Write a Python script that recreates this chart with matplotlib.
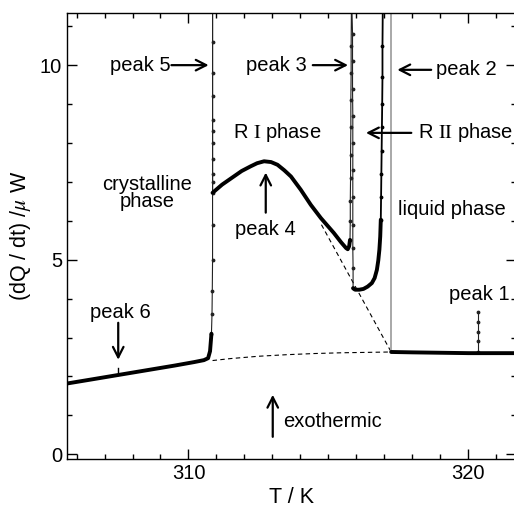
import matplotlib
matplotlib.use("Agg")
import matplotlib.pyplot as plt
from matplotlib.ticker import MultipleLocator

plt.rcParams['font.family'] = ['Liberation Sans', 'DejaVu Sans']
plt.rcParams['mathtext.fontset'] = 'stix'

# ---- data ----
T_cryst = [305.66, 306.5, 307.5, 308.5, 309.5, 310.2, 310.55, 310.7, 310.77, 310.82]
Q_cryst = [1.82, 1.92, 2.04, 2.16, 2.28, 2.37, 2.42, 2.47, 2.65, 3.10]

T_p5 = [310.82, 310.84, 310.85, 310.86, 310.86, 310.86, 310.86, 310.86, 310.86, 310.86,
        310.86, 310.86, 310.86, 310.86, 310.86, 310.86]
Q_p5 = [3.10, 3.60, 4.20, 5.00, 5.90, 7.00, 8.30, 9.80, 11.40, 10.60, 9.20, 8.60,
        8.00, 7.60, 7.20, 6.72]

T_RI = [310.86, 311.2, 311.62, 311.9, 312.22, 312.45, 312.70, 312.95, 313.18, 313.42,
        313.66, 314.01, 314.37, 314.73, 315.19, 315.45, 315.63, 315.69, 315.74, 315.77]
Q_RI = [6.72, 6.93, 7.14, 7.28, 7.40, 7.48, 7.53, 7.51, 7.44, 7.30,
        7.14, 6.80, 6.41, 6.07, 5.69, 5.45, 5.30, 5.27, 5.35, 5.51]

T_p3 = [315.77, 315.78, 315.78, 315.79, 315.79, 315.80, 315.80, 315.81, 315.81, 315.82,
        315.84, 315.86, 315.86, 315.86, 315.87, 315.87, 315.87, 315.87, 315.87, 315.87,
        315.88, 315.88]
Q_p3 = [5.51, 6.00, 6.50, 7.10, 7.70, 8.40, 9.10, 9.80, 10.50, 11.40,
        11.40, 10.80, 10.10, 9.40, 8.70, 8.00, 7.30, 6.60, 5.90, 5.30, 4.80, 4.27]

T_RII = [315.88, 315.95, 316.10, 316.25, 316.40, 316.55, 316.65, 316.73, 316.78,
         316.82, 316.85, 316.87]
Q_RII = [4.27, 4.23, 4.23, 4.25, 4.31, 4.40, 4.53, 4.74, 4.98, 5.26, 5.60, 6.03]

T_p2 = [316.87, 316.88, 316.89, 316.90, 316.91, 316.92, 316.93, 316.93, 316.94]
Q_p2 = [6.03, 6.60, 7.20, 7.80, 8.40, 9.00, 9.70, 10.50, 11.40]

T_melt = [317.24, 317.24]
Q_melt = [11.40, 2.63]

T_liq = [317.24, 318.0, 319.0, 320.0, 320.3, 321.0, 321.63]
Q_liq = [2.63, 2.62, 2.61, 2.60, 2.60, 2.60, 2.60]

T_p1 = [320.35, 320.35, 320.35, 320.35, 320.35]
Q_p1 = [2.62, 2.90, 3.15, 3.40, 3.67]

T_p6 = [307.49, 307.49]
Q_p6 = [2.04, 2.22]

T_base = [310.86, 311.5, 312.5, 313.5, 314.5, 315.5, 316.4, 317.24]
Q_base = [2.41, 2.46, 2.52, 2.56, 2.59, 2.61, 2.62, 2.63]

T_tan = [314.75, 317.24]
Q_tan = [5.90, 2.63]

# ---- figure ----
fig = plt.figure(figsize=(5.14, 5.12), dpi=100)
W, H = 514, 512
ax = fig.add_axes([67 / W, (H - 459) / H, (516 - 67) / W, (459 - 13) / H])

ax.plot(T_base, Q_base, color='black', lw=0.8, ls=(0, (4, 3)))
ax.plot(T_tan, Q_tan, color='black', lw=0.8, ls=(0, (4, 3)))

ax.plot(T_melt, Q_melt, color='#9a9a9a', lw=1.2)

thin = dict(color='#222222', lw=0.8, marker='.', ms=3.5)
ax.plot(T_p5, Q_p5, **thin)
ax.plot(T_p3, Q_p3, **thin)
ax.plot(T_p2, Q_p2, color='black', lw=1.3, marker='.', ms=3.5)
ax.plot(T_p1, Q_p1, **thin)
ax.plot(T_p6, Q_p6, color='black', lw=1.0)

thick = dict(color='black', lw=2.8, solid_capstyle='round', solid_joinstyle='round')
ax.plot(T_cryst, Q_cryst, **thick)
ax.plot(T_RI, Q_RI, **thick)
ax.plot(T_RII, Q_RII, **thick)
ax.plot(T_liq, Q_liq, **thick)

ax.set_xlim(305.66, 321.7)
ax.set_ylim(-0.12, 11.34)

ax.xaxis.set_major_locator(MultipleLocator(10))
ax.xaxis.set_minor_locator(MultipleLocator(1))
ax.yaxis.set_major_locator(MultipleLocator(5))
ax.yaxis.set_minor_locator(MultipleLocator(1))
ax.tick_params(which='both', direction='in', top=True, right=True, labelsize=14.5, width=1.0)
ax.tick_params(which='major', length=7)
ax.tick_params(which='minor', length=3.5)
ax.spines['right'].set_visible(False)
for s in ['left', 'bottom', 'top']:
    ax.spines[s].set_linewidth(1.0)

ax.set_xlabel('T / K', fontsize=15.5, labelpad=3)
ax.set_ylabel(r'(dQ / dt) /$\mu$ W', fontsize=15.5, labelpad=5)

fs = 14.5
arr = dict(arrowstyle='->,head_length=0.75,head_width=0.38', lw=1.6, color='black',
           shrinkA=0, shrinkB=0)

ax.text(309.35, 10.0, 'peak 5', fontsize=fs, ha='right', va='center')
ax.annotate('', xy=(310.72, 10.0), xytext=(309.39, 10.0), arrowprops=arr)

ax.text(314.23, 10.0, 'peak 3', fontsize=fs, ha='right', va='center')
ax.annotate('', xy=(315.70, 10.0), xytext=(314.44, 10.0), arrowprops=arr)

ax.text(318.85, 9.88, 'peak 2', fontsize=fs, ha='left', va='center')
ax.annotate('', xy=(317.46, 9.88), xytext=(318.67, 9.88), arrowprops=arr)

ax.text(311.58, 8.26, r'R $\mathrm{I}$ phase', fontsize=fs, ha='left', va='center')

ax.text(318.21, 8.26, r'R $\mathrm{II}$ phase', fontsize=fs, ha='left', va='center')
ax.annotate('', xy=(316.34, 8.26), xytext=(317.96, 8.26), arrowprops=arr)

ax.text(308.53, 6.72, 'crystalline\nphase', fontsize=fs, ha='center', va='center',
        linespacing=0.9)

ax.text(312.76, 5.77, 'peak 4', fontsize=fs, ha='center', va='center')
ax.annotate('', xy=(312.76, 7.24), xytext=(312.76, 6.21), arrowprops=arr)

ax.text(317.49, 6.29, 'liquid phase', fontsize=fs, ha='left', va='center')

ax.text(319.32, 4.10, 'peak 1', fontsize=fs, ha='left', va='center')

ax.text(307.56, 3.64, 'peak 6', fontsize=fs, ha='center', va='center')
ax.annotate('', xy=(307.49, 2.43), xytext=(307.49, 3.38), arrowprops=arr)

ax.text(313.37, 0.84, 'exothermic', fontsize=fs, ha='left', va='center')
ax.annotate('', xy=(313.01, 1.53), xytext=(313.01, 0.45), arrowprops=arr)

fig.savefig('out.png', dpi=100)
